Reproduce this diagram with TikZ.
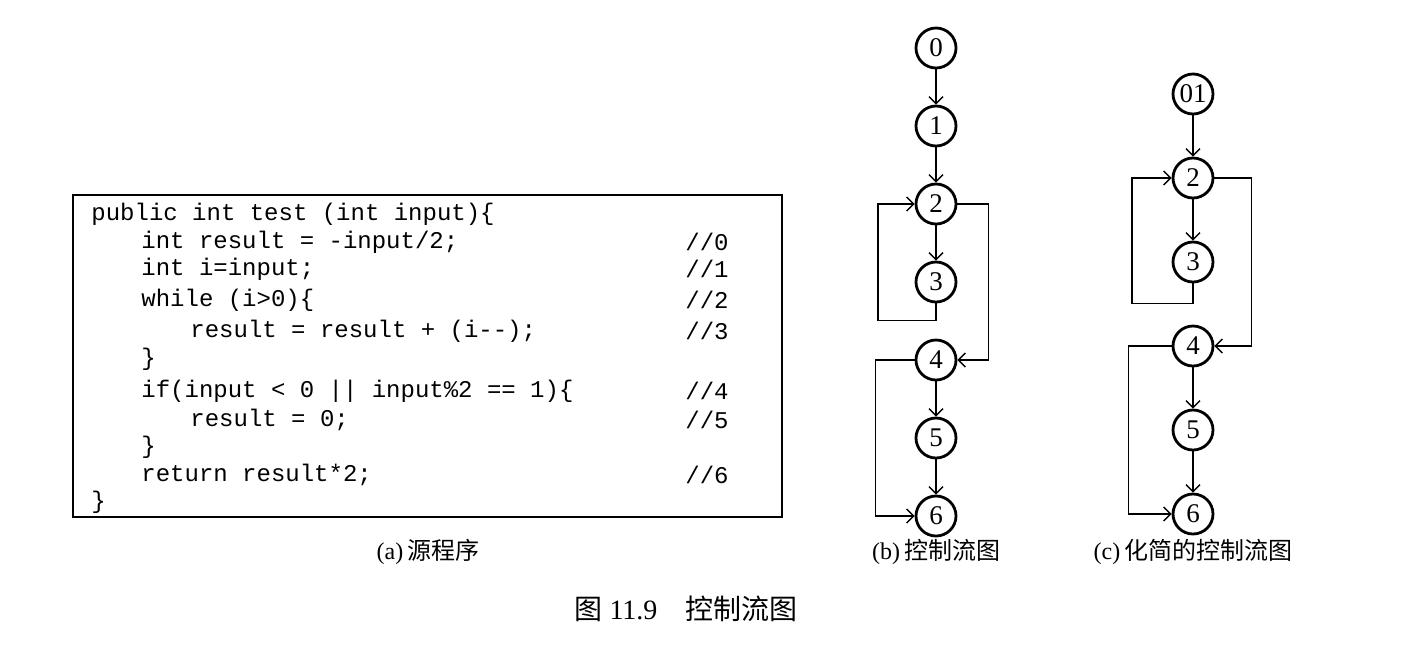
\documentclass[tikz,border=0pt]{standalone}
\usepackage{fontspec}
\setmainfont{Liberation Serif}
\newfontfamily\codefont{Liberation Mono}
\newfontfamily\cjk{Noto Sans CJK SC}
\usetikzlibrary{positioning, arrows.meta}

\begin{document}
\begin{tikzpicture}[
    x=0.5pt, y=-0.5pt,
    node distance=39pt,
    state/.style={
        circle,
        draw,
        line width=1.4pt,
        minimum size=20pt,
        inner sep=0pt,
        font=\fontsize{13.5}{15}\selectfont
    },
    code/.style={
        anchor=west,
        inner sep=0pt,
        font=\codefont\fontsize{12}{14}\selectfont
    },
    caption/.style={
        font=\fontsize{12}{14}\selectfont
    },
    arrow/.style={
        -{Straight Barb[length=3.5pt, width=7pt]},
        line width=0.7pt
    }
]
\useasboundingbox (0,0) rectangle (1402,644);

% (a) source program
\node[draw, line width=1pt, minimum width=354.5pt, minimum height=161pt, inner sep=0pt] (src) at (427.5,356) {};

\node[code] (c0) at (91,214) {public int test (int input)\{};
\node[code] (c1) at (141,242) {int result = -input/2;};
\node[code] (c2) at (141,269) {int i=input;};
\node[code] (c3) at (141,300) {while (i>0)\{};
\node[code] (c4) at (190,331) {result = result + (i-{}-);};
\node[code] (c5) at (141,359) {\}};
\node[code] (c6) at (141,391) {if(input < 0 || input\%2 == 1)\{};
\node[code] (c7) at (190,420) {result = 0;};
\node[code] (c8) at (141,447) {\}};
\node[code] (c9) at (141,475) {return result*2;};
\node[code] (c10) at (91,502) {\}};

\node[code] (m0) at (685,242) {//0};
\node[code] (m1) at (685,269) {//1};
\node[code] (m2) at (685,300) {//2};
\node[code] (m3) at (685,331) {//3};
\node[code] (m4) at (685,391) {//4};
\node[code] (m5) at (685,420) {//5};
\node[code] (m6) at (685,475) {//6};

% (b) control flow graph
\begin{scope}[on grid]
\node[state] (b0) at (936,48) {0};
\node[state, below=of b0] (b1) {1};
\node[state, below=of b1] (b2) {2};
\node[state, below=of b2] (b3) {3};
\node[state, below=of b3] (b4) {4};
\node[state, below=of b4] (b5) {5};
\node[state, below=of b5] (b6) {6};
\end{scope}

\draw[arrow] (b0) -- (b1);
\draw[arrow] (b1) -- (b2);
\draw[arrow] (b2) -- (b3);
\draw[arrow] (b3.south) -- ++(0,17) -- ++(-58,0) |- (b2.west);
\draw[arrow] (b2.east) -- ++(31,0) |- (b4.east);
\draw[arrow] (b4) -- (b5);
\draw[arrow] (b5) -- (b6);
\draw[arrow] (b4.west) -- ++(-39,0) |- (b6.west);

% (c) reduced control flow graph
\begin{scope}[on grid, node distance=42pt]
\node[state] (r01) at (1193,94) {01};
\node[state, below=of r01] (r2) {2};
\node[state, below=of r2] (r3) {3};
\node[state, below=of r3] (r4) {4};
\node[state, below=of r4] (r5) {5};
\node[state, below=of r5] (r6) {6};
\end{scope}

\draw[arrow] (r01) -- (r2);
\draw[arrow] (r2) -- (r3);
\draw[arrow] (r3.south) -- ++(0,20) -- ++(-61,0) |- (r2.west);
\draw[arrow] (r2.east) -- ++(37,0) |- (r4.east);
\draw[arrow] (r4) -- (r5);
\draw[arrow] (r5) -- (r6);
\draw[arrow] (r4.west) -- ++(-43,0) |- (r6.west);

% captions
\node[caption] (capa) at (428,552) {(a)\,{\cjk 源程序}};
\node[caption] (capb) at (936,552) {(b)\,{\cjk 控制流图}};
\node[caption] (capc) at (1193,552) {(c)\,{\cjk 化简的控制流图}};
\node[font=\fontsize{14}{16}\selectfont] (fig) at (686,609) {{\cjk 图} 11.9\quad{\cjk 控制流图}};
\end{tikzpicture}
\end{document}
